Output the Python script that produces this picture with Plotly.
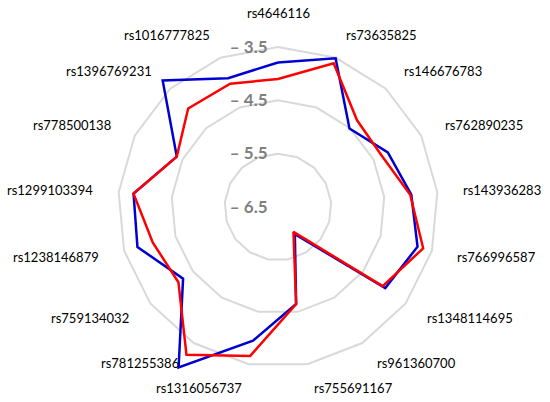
import math
import plotly.graph_objects as go

categories = ["rs4646116", "rs73635825", "rs146676783", "rs762890235", "rs143936283",
              "rs766996587", "rs1348114695", "rs961360700", "rs755691167", "rs1316056737",
              "rs781255386", "rs759134032", "rs1238146879", "rs1299103394", "rs778500138",
              "rs1396769231", "rs1016777825"]

blue_values = [-3.79, -3.51, -4.51, -4.20, -3.99, -3.78, -3.98, -5.90, -4.65, -3.95,
               -2.96, -4.27, -3.76, -3.78, -4.38, -3.29, -3.91]
red_values = [-4.10, -3.61, -4.30, -4.33, -4.01, -3.67, -4.04, -5.95, -4.65, -3.66,
              -3.24, -4.16, -4.06, -3.78, -4.38, -4.00, -4.02]

tick_vals = [-6.5, -5.5, -4.5, -3.5]
tick_text = ["– 6.5", "– 5.5", "– 4.5", "– 3.5"]

r_min, r_outer, r_max = -6.5, -3.5, -2.9   # r_max leaves room for points beyond the outer ring

fig = go.Figure()
for vals, col in [(blue_values, "#0000d0"), (red_values, "#ff0000")]:
    fig.add_trace(go.Scatterpolar(
        r=vals + vals[:1], theta=categories + categories[:1],
        mode="lines", line=dict(color=col, width=2.5),
        cliponaxis=False, showlegend=False, hoverinfo="skip"))

W, H = 550, 402
cx, cy, R = 278, 207, 160          # R: pixel radius of the outer (-3.5) ring
Rd = R * (r_max - r_min) / (r_outer - r_min)
label_r = R + 24
FONT = "Lato, 'Open Sans', sans-serif"

annotations = []
n = len(categories)
for i, name in enumerate(categories):
    a = math.radians(i * 360.0 / n)
    s, c = math.sin(a), math.cos(a)
    px = cx + label_r * s
    py = cy - label_r * c
    if abs(s) < 0.05:
        xa = "center"
        ya = "bottom" if c > 0 else "top"
    else:
        xa = "left" if s > 0 else "right"
        ya = "middle"
    annotations.append(dict(x=px / W, y=1 - py / H, xref="paper", yref="paper",
                            text=name, showarrow=False, xanchor=xa, yanchor=ya,
                            font=dict(size=13, color="black", family=FONT)))

fig.update_layout(
    width=W, height=H, margin=dict(l=0, r=0, t=0, b=0),
    paper_bgcolor="white", plot_bgcolor="white",
    font=dict(family=FONT, color="black"),
    annotations=annotations,
    polar=dict(
        domain=dict(x=[(cx - Rd) / W, (cx + Rd) / W],
                    y=[(H - cy - Rd) / H, (H - cy + Rd) / H]),
        bgcolor="rgba(0,0,0,0)",
        gridshape="linear",
        radialaxis=dict(range=[r_min, r_max], tickvals=tick_vals, ticktext=tick_text,
                        angle=90, tickangle=90, side="counterclockwise",
                        showline=False, showgrid=True, gridcolor="#d9d9d9", gridwidth=1.5,
                        ticks="outside", ticklen=4, tickcolor="rgba(0,0,0,0)",
                        tickfont=dict(size=17, color="#7f7f7f", family=FONT, weight="bold")),
        angularaxis=dict(direction="clockwise", rotation=90, showgrid=False,
                         showline=False, ticks="", showticklabels=False),
    ),
)
fig.write_html("out.html", config={"displayModeBar": False},
               post_script="document.body.style.margin='0px';")
